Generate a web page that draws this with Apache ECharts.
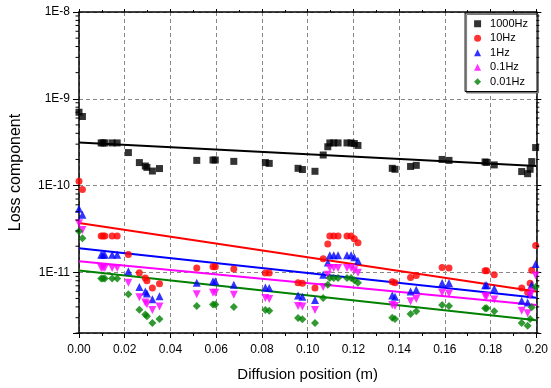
<!DOCTYPE html>
<html>
<head>
<meta charset="utf-8">
<script src="https://cdn.jsdelivr.net/npm/echarts@6/dist/echarts.min.js"></script>
<style>
  html, body { margin: 0; padding: 0; background: #fff; }
  #chart { width: 551px; height: 388px; }
</style>
</head>
<body>
<div id="chart"></div>
<script>
// measurement positions along the diffusion path (m)
const positions = [0, 0.0015, 0.0097, 0.0105, 0.0113, 0.0145, 0.0167, 0.0216, 0.0264, 0.029,
  0.0297, 0.0321, 0.0352, 0.0515, 0.0586, 0.0596, 0.0677, 0.0815, 0.0832, 0.0958,
  0.0977, 0.1032, 0.1068, 0.1088, 0.1097, 0.1114, 0.1133, 0.1172, 0.119, 0.1204,
  0.122, 0.137, 0.1382, 0.145, 0.1475, 0.1588, 0.1618, 0.1776, 0.1783, 0.1816,
  0.1936, 0.1962, 0.1973, 0.198, 0.1997];

const loss1000Hz = [7.0e-10, 6.25e-10, 3.1e-10, 3.1e-10, 3.1e-10, 3.1e-10, 3.1e-10, 2.4e-10, 1.84e-10, 1.68e-10,
  1.62e-10, 1.47e-10, 1.57e-10, 1.95e-10, 1.97e-10, 1.97e-10, 1.9e-10, 1.84e-10, 1.8e-10, 1.58e-10,
  1.53e-10, 1.46e-10, 2.25e-10, 2.8e-10, 3.1e-10, 3.1e-10, 3.1e-10, 3.1e-10, 3.1e-10, 3.05e-10,
  2.9e-10, 1.58e-10, 1.54e-10, 1.66e-10, 1.71e-10, 2.0e-10, 1.95e-10, 1.87e-10, 1.85e-10, 1.73e-10,
  1.45e-10, 1.37e-10, 1.54e-10, 1.89e-10, 2.74e-10];

const loss10Hz = [1.12e-10, 9.0e-11, 2.62e-11, 2.62e-11, 2.62e-11, 2.62e-11, 2.62e-11, 1.61e-11, 9.9e-12, 8.6e-12,
  8.0e-12, 6.6e-12, 7.4e-12, 1.12e-11, 1.16e-11, 1.16e-11, 1.09e-11, 9.8e-12, 9.8e-12, 7.6e-12,
  7.5e-12, 6.6e-12, 1.43e-11, 2.12e-11, 2.62e-11, 2.62e-11, 2.62e-11, 2.62e-11, 2.62e-11, 2.44e-11,
  2.2e-11, 7.8e-12, 7.6e-12, 8.7e-12, 9.2e-12, 1.14e-11, 1.12e-11, 1.04e-11, 1.04e-11, 9.4e-12,
  6.6e-12, 5.9e-12, 7.5e-12, 1.06e-11, 2.04e-11];

const loss1Hz = [5.4e-11, 4.6e-11, 1.6e-11, 1.6e-11, 1.6e-11, 1.6e-11, 1.6e-11, 1.03e-11, 6.8e-12, 6.0e-12,
  5.7e-12, 4.9e-12, 5.3e-12, 7.6e-12, 7.9e-12, 7.9e-12, 7.2e-12, 6.7e-12, 6.6e-12, 5.4e-12,
  5.25e-12, 4.8e-12, 9.4e-12, 1.3e-11, 1.57e-11, 1.57e-11, 1.57e-11, 1.57e-11, 1.57e-11, 1.49e-11,
  1.36e-11, 5.4e-12, 5.25e-12, 6.0e-12, 6.3e-12, 7.55e-12, 7.55e-12, 7.1e-12, 7.1e-12, 6.5e-12,
  4.7e-12, 4.5e-12, 5.6e-12, 7.2e-12, 1.25e-11];

const loss01Hz = [3.67e-11, 3.08e-11, 1.12e-11, 1.12e-11, 1.12e-11, 1.12e-11, 1.12e-11, 7.6e-12, 5.15e-12, 4.5e-12,
  4.3e-12, 3.68e-12, 4.05e-12, 5.6e-12, 5.8e-12, 5.8e-12, 5.5e-12, 5.07e-12, 4.94e-12, 4.1e-12,
  4.03e-12, 3.68e-12, 6.8e-12, 9.4e-12, 1.12e-11, 1.12e-11, 1.12e-11, 1.12e-11, 1.12e-11, 1.06e-11,
  9.9e-12, 4.2e-12, 4.1e-12, 4.64e-12, 4.94e-12, 5.8e-12, 5.7e-12, 5.3e-12, 5.3e-12, 4.85e-12,
  3.6e-12, 3.37e-12, 5.4e-12, 6.0e-12, 9.2e-12];

const loss001Hz = [2.97e-11, 2.47e-11, 8.5e-12, 8.5e-12, 8.5e-12, 8.5e-12, 8.5e-12, 5.6e-12, 3.7e-12, 3.26e-12,
  3.11e-12, 2.61e-12, 2.9e-12, 4.1e-12, 4.25e-12, 4.25e-12, 4.0e-12, 3.68e-12, 3.62e-12, 2.98e-12,
  2.88e-12, 2.61e-12, 5.07e-12, 7.2e-12, 8.6e-12, 8.6e-12, 8.6e-12, 8.6e-12, 8.6e-12, 8.1e-12,
  7.6e-12, 3.0e-12, 2.9e-12, 3.32e-12, 3.56e-12, 4.2e-12, 4.1e-12, 3.86e-12, 3.86e-12, 3.56e-12,
  2.6e-12, 2.43e-12, 2.9e-12, 3.95e-12, 6.8e-12];

// fitted trend lines: value at x = 0 and x = 0.2
const fitEnds = [0, 0.2];
const fit1000Hz = [3.14e-10, 1.68e-10];
const fit10Hz = [3.71e-11, 6.0e-12];
const fit1Hz = [1.89e-11, 5.1e-12];
const fit01Hz = [1.34e-11, 4.2e-12];
const fit001Hz = [1.05e-11, 2.8e-12];

const xTicks = [0, 0.2, 0.02];          // min, max, interval
const yRange = [2e-12, 1e-8];

// log minor ticks (2..9 in every decade)
let minorVals = [];
for (let e = -12; e < -8; e++) {
  for (let m = 2; m <= 9; m++) {
    let v = m * Math.pow(10, e);
    if (v >= yRange[0] * 0.999 && v <= yRange[1]) minorVals.push(v);
  }
}

const font = 'Arial, "Liberation Sans", sans-serif';

function pts(vals) {
  return positions.map((x, i) => [x, vals[i]]);
}
function fit(vals) {
  return fitEnds.map((x, i) => [x, vals[i]]);
}

let chart = echarts.init(document.getElementById('chart'));

const scatterDefs = [
  { name: '1000Hz', data: loss1000Hz, color: '#000000', symbol: 'rect', size: 7, rotate: 0 },
  { name: '10Hz', data: loss10Hz, color: '#ff0000', symbol: 'circle', size: 7, rotate: 0 },
  { name: '1Hz', data: loss1Hz, color: '#0000ff', symbol: 'triangle', size: 8, rotate: 0 },
  { name: '0.1Hz', data: loss01Hz, color: '#ff00ff', symbol: 'triangle', size: 8, rotate: 180 },
  { name: '0.01Hz', data: loss001Hz, color: '#008000', symbol: 'diamond', size: 8, rotate: 0 }
];
const fitDefs = [
  { data: fit1000Hz, color: '#000000' },
  { data: fit10Hz, color: '#ff0000' },
  { data: fit1Hz, color: '#0000ff' },
  { data: fit01Hz, color: '#ff00ff' },
  { data: fit001Hz, color: '#008000' }
];

let series = [];
fitDefs.forEach((f, i) => {
  series.push({
    name: 'fit' + i,
    type: 'line',
    data: fit(f.data),
    symbol: 'none',
    silent: true,
    lineStyle: { color: f.color, width: 2 },
    z: 2
  });
});
scatterDefs.forEach(s => {
  series.push({
    name: s.name,
    type: 'scatter',
    data: pts(s.data),
    symbol: s.symbol,
    symbolSize: s.size,
    symbolRotate: s.rotate,
    clip: false,
    itemStyle: { color: s.color },
    z: 3
  });
});
// minor ticks on left and right log axes
series.push({
  type: 'custom',
  silent: true,
  data: minorVals.map(v => [xTicks[0], v]),
  renderItem: function (params, api) {
    let v = api.value(1);
    let p = api.coord([xTicks[0], v]);
    let q = api.coord([xTicks[1], v]);
    return {
      type: 'group',
      children: [
        { type: 'line', shape: { x1: p[0] - 3.5, y1: p[1], x2: p[0], y2: p[1] }, style: { stroke: '#000', lineWidth: 1 } },
        { type: 'line', shape: { x1: q[0], y1: q[1], x2: q[0] + 3, y2: q[1] }, style: { stroke: '#000', lineWidth: 1 } }
      ]
    };
  },
  z: 4
});

chart.setOption({
  animation: false,
  backgroundColor: '#fff',
  grid: { left: 78, right: 12, top: 12, bottom: 55 },
  legend: {
    data: scatterDefs.map(s => s.name),
    orient: 'vertical',
    right: 14,
    top: 13,
    padding: [5, 9, 4, 9],
    itemWidth: 7,
    itemHeight: 7,
    itemGap: 3,
    borderColor: '#000',
    borderWidth: 1,
    backgroundColor: '#fff',
    shadowColor: '#777',
    shadowOffsetX: 1.5,
    shadowOffsetY: 1.5,
    textStyle: { fontFamily: font, fontSize: 11, color: '#000', lineHeight: 11.5, padding: [0, 0, 0, 4] }
  },
  xAxis: [{
    type: 'value',
    min: xTicks[0],
    max: xTicks[1],
    interval: xTicks[2],
    name: 'Diffusion position (m)',
    nameLocation: 'middle',
    nameGap: 34,
    nameTextStyle: { fontFamily: font, fontSize: 15, color: '#000' },
    axisLine: { onZero: false, lineStyle: { color: '#000', width: 1.5 } },
    axisTick: { length: 5, lineStyle: { color: '#000' } },
    minorTick: { show: true, splitNumber: 2, length: 3, lineStyle: { color: '#000' } },
    axisLabel: { fontFamily: font, fontSize: 12, color: '#000', margin: 11, formatter: v => v.toFixed(2) },
    splitLine: { show: true, lineStyle: { color: '#888', type: [4, 3], width: 1 } }
  }, {
    type: 'value',
    position: 'top',
    min: xTicks[0],
    max: xTicks[1],
    interval: xTicks[2],
    axisLine: { onZero: false, lineStyle: { color: '#000', width: 1.5 } },
    axisTick: { length: 3, lineStyle: { color: '#000' } },
    minorTick: { show: true, splitNumber: 2, length: 2, lineStyle: { color: '#000' } },
    axisLabel: { show: false },
    splitLine: { show: false }
  }],
  yAxis: [{
    type: 'log',
    logBase: 10,
    min: yRange[0],
    max: yRange[1],
    name: 'Loss component',
    nameLocation: 'middle',
    nameGap: 55,
    nameTextStyle: { fontFamily: font, fontSize: 16, color: '#000' },
    axisLine: { onZero: false, lineStyle: { color: '#000', width: 1.5 } },
    axisTick: { length: 6, lineStyle: { color: '#000' } },
    axisLabel: {
      fontFamily: font, fontSize: 12, color: '#000', margin: 9,
      formatter: function (v) {
        let lg = Math.log10(v);
        let e = Math.round(lg);
        if (Math.abs(lg - e) > 1e-6) return '';
        return '1E' + e;
      }
    },
    splitLine: { show: true, lineStyle: { color: '#888', type: [4, 3], width: 1 } }
  }, {
    type: 'log',
    logBase: 10,
    min: yRange[0],
    max: yRange[1],
    position: 'right',
    axisLine: { onZero: false, lineStyle: { color: '#000', width: 1.5 } },
    axisTick: { length: 5, lineStyle: { color: '#000' } },
    axisLabel: { show: false },
    splitLine: { show: false }
  }],
  series: series
});
</script>
</body>
</html>
